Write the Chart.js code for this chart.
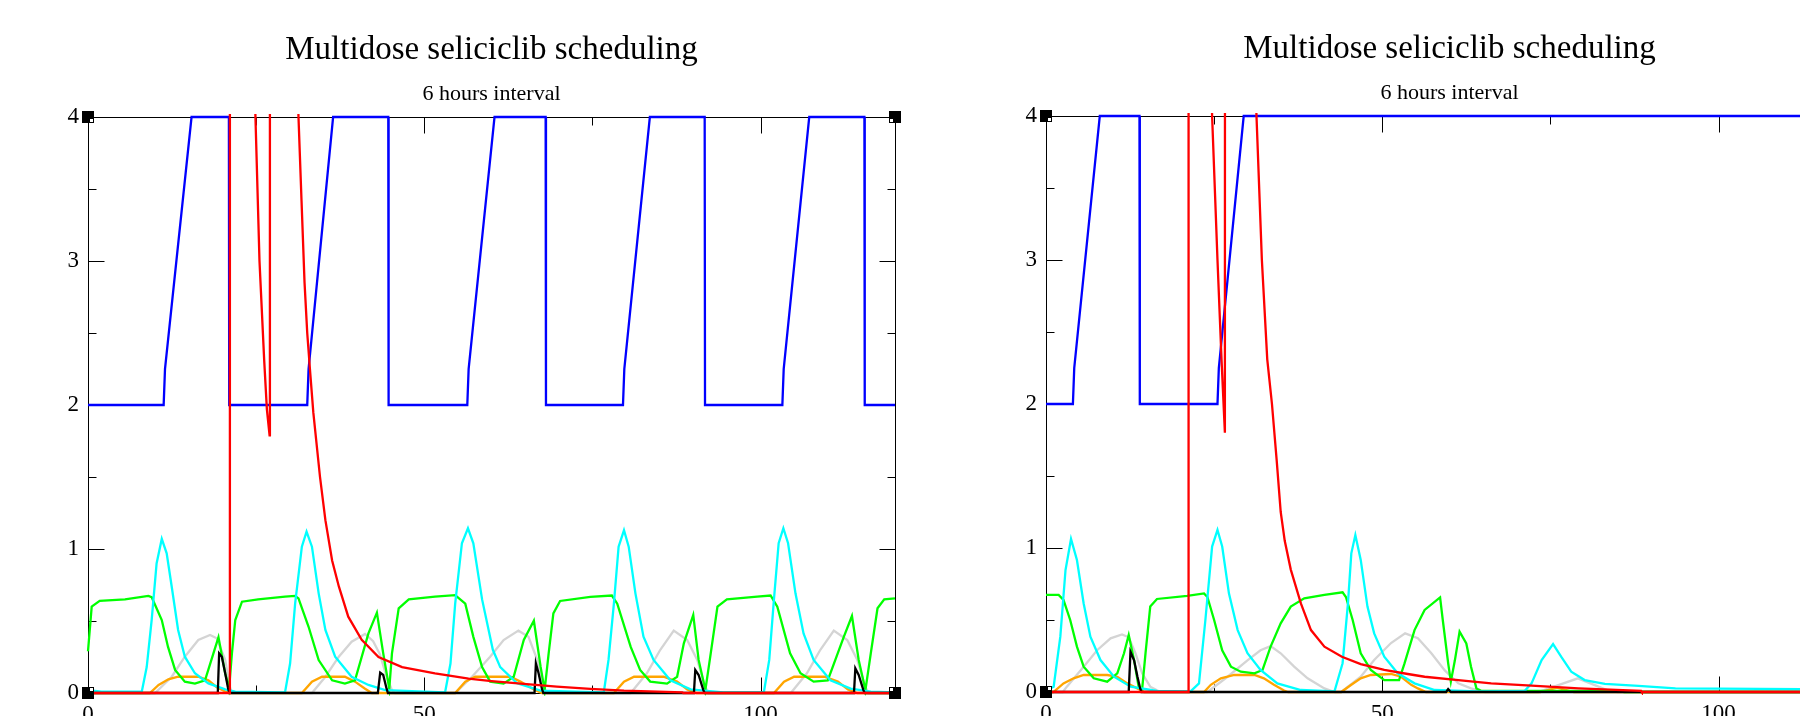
<!DOCTYPE html>
<html>
<head>
<meta charset="utf-8">
<script src="https://cdn.jsdelivr.net/npm/chart.js@4/dist/chart.umd.min.js"></script>
<style>
  html, body { margin: 0; padding: 0; background: #fff; overflow: hidden; }
  #wrap { position: relative; width: 1800px; height: 716px; overflow: hidden; }
  canvas { position: absolute; }
</style>
</head>
<body>
<div id="wrap">
  <canvas id="left-chart" width="960" height="760" style="left:0;top:0"></canvas>
  <canvas id="right-chart" width="960" height="760" style="left:958px;top:-1px"></canvas>
</div>
<script>
const chartTitle = 'Multidose seliciclib scheduling';
const chartSubtitle = '6 hours interval';

const xTickValues = [0, 50, 100];
const xMinorTicks = [25, 75];
const yTickValues = [0, 1, 2, 3, 4];
const yMinorTicks = [0.5, 1.5, 2.5, 3.5];

// left panel series, [time, value]
const leftBlue = [[0,2],[11.25,2],[11.45,2.25],[15.4,4],[20.95,4],[21.0,2],[32.6,2],[32.8,2.25],[36.45,4],[44.65,4],[44.7,2],[56.4,2],[56.6,2.25],[60.45,4],[68.05,4],[68.1,2],[79.55,2],[79.75,2.25],[83.55,4],[91.7,4],[91.75,2],[103.25,2],[103.45,2.25],[107.25,4],[115.45,4],[115.5,2],[120,2]];
const leftRed = [[0,0],[21.05,0],[21.1,12],[24.9,4],[25.5,3],[26.2,2.31],[26.6,1.97],[27.0,1.79],[27.05,12],[31.3,4],[31.75,3.42],[32.2,2.85],[32.6,2.5],[33.0,2.25],[33.5,1.95],[34.5,1.5],[35.3,1.2],[36.3,0.92],[37.3,0.74],[38.7,0.53],[40.7,0.37],[43.2,0.25],[46.7,0.18],[51.6,0.137],[56.6,0.1],[60,0.083],[64.8,0.063],[69.7,0.044],[74.7,0.028],[79.7,0.016],[84.7,0.01],[88.4,0.005],[88.5,0],[120,0]];
const leftGreen = [[0,0.29],[0.55,0.6],[1.74,0.64],[5.5,0.65],[8.97,0.674],[9.47,0.665],[10.97,0.507],[11.9,0.32],[12.95,0.16],[14.4,0.079],[15.9,0.065],[17.4,0.088],[18.65,0.275],[19.4,0.387],[20.4,0.137],[20.98,0.03],[21.4,0.275],[21.9,0.507],[22.9,0.634],[25.3,0.65],[29.3,0.669],[30.8,0.674],[31.3,0.657],[32.8,0.46],[34.3,0.229],[36.3,0.088],[38.2,0.065],[39.7,0.088],[41.7,0.414],[42.96,0.558],[43.9,0.275],[44.8,0.03],[45.2,0.275],[46.2,0.588],[47.7,0.65],[51.6,0.669],[54.6,0.68],[56.1,0.62],[57.3,0.39],[58.6,0.18],[59.8,0.079],[61.8,0.065],[63.3,0.113],[64.8,0.368],[66.3,0.502],[67.3,0.183],[67.9,0.02],[68.5,0.275],[69.2,0.553],[70.2,0.639],[74.7,0.667],[77.9,0.677],[78.7,0.62],[80.7,0.32],[82.1,0.16],[83.6,0.079],[86.1,0.065],[87.6,0.113],[88.6,0.345],[90.0,0.542],[90.8,0.23],[91.8,0.02],[92.6,0.275],[93.6,0.6],[95.0,0.65],[99.5,0.669],[101.5,0.677],[102.5,0.6],[104.4,0.275],[105.95,0.137],[107.9,0.079],[110.0,0.088],[112.4,0.391],[113.6,0.535],[114.6,0.23],[115.6,0.02],[116.4,0.275],[117.4,0.588],[118.4,0.65],[120,0.657]];
const leftCyan = [[0,0.02],[2,0.01],[8.0,0.01],[8.73,0.18],[9.47,0.507],[10.2,0.9],[10.97,1.07],[11.7,0.97],[12.45,0.738],[13.4,0.4375],[14.4,0.252],[15.9,0.137],[17.9,0.067],[20.4,0.025],[21.9,0.01],[29.3,0.005],[30.05,0.205],[30.8,0.62],[31.8,1.016],[32.5,1.12],[33.3,1.016],[34.3,0.692],[35.3,0.4375],[36.75,0.252],[39.2,0.113],[41.7,0.056],[44.2,0.02],[53.1,0.005],[53.9,0.205],[54.6,0.62],[55.6,1.04],[56.5,1.144],[57.3,1.04],[58.6,0.65],[60.2,0.3],[61.3,0.18],[63.8,0.067],[67.3,0.016],[76.7,0.005],[77.4,0.23],[78.2,0.62],[78.9,1.016],[79.7,1.13],[80.4,1.016],[81.4,0.692],[82.6,0.391],[84.1,0.23],[86.6,0.088],[89.6,0.025],[94.5,0.005],[100.5,0.005],[101.3,0.23],[102.0,0.65],[102.7,1.04],[103.4,1.144],[104.1,1.04],[105.2,0.692],[106.4,0.414],[107.9,0.23],[110.4,0.088],[113.4,0.03],[116.4,0.01],[120,0.005]];
const leftGray = [[0,0],[9.97,0],[12.45,0.113],[14.4,0.252],[16.4,0.368],[18.15,0.403],[19.15,0.38],[20.4,0.23],[21.1,0.04],[21.4,0],[33.3,0],[35.3,0.113],[37.3,0.252],[39.2,0.356],[41.2,0.41],[42.4,0.36],[43.4,0.27],[44.4,0.113],[45.2,0.02],[45.6,0],[54.6,0],[57.1,0.113],[59.8,0.252],[61.8,0.368],[64.0,0.433],[65.5,0.39],[66.8,0.23],[67.8,0.04],[68.3,0],[80.7,0],[83.1,0.137],[85.1,0.3],[87.1,0.433],[89.1,0.368],[90.6,0.23],[91.8,0.04],[92.3,0],[104.5,0],[106.9,0.137],[108.9,0.3],[110.9,0.433],[112.9,0.368],[114.4,0.23],[115.6,0.04],[116.1,0],[120,0]];
const leftOrange = [[0,0],[9.2,0],[10.5,0.056],[11.95,0.095],[13.4,0.113],[16.4,0.113],[17.9,0.088],[19.15,0.04],[20.4,0.01],[21,0],[31.8,0],[33.3,0.079],[34.8,0.113],[38.2,0.113],[39.7,0.079],[41.2,0.03],[42.2,0],[54.6,0],[56.1,0.079],[57.6,0.113],[62.8,0.113],[64.3,0.079],[66.3,0.025],[67.5,0],[78.2,0],[79.7,0.079],[81.2,0.113],[85.6,0.113],[87.6,0.079],[89.1,0.025],[90.5,0],[102.0,0],[103.5,0.079],[105.0,0.113],[109.5,0.113],[111.5,0.079],[113.0,0.025],[114.4,0],[120,0]];
const leftBlack = [[0,0],[19.3,0],[19.5,0.275],[19.9,0.252],[20.4,0.137],[20.8,0.04],[21.0,0],[43.1,0],[43.45,0.141],[43.9,0.125],[44.4,0.03],[44.6,0],[66.4,0],[66.6,0.206],[67.0,0.137],[67.5,0.03],[67.7,0],[90.1,0],[90.3,0.16],[90.8,0.125],[91.5,0.02],[91.7,0],[113.9,0],[114.1,0.171],[114.6,0.125],[115.3,0.02],[115.5,0],[120,0]];

// right panel series
const rightBlue = [[0,2],[4.0,2],[4.2,2.25],[8.0,4],[13.9,4],[13.95,2],[25.5,2],[25.7,2.25],[29.4,4],[120,4]];
const rightRed = [[0,0],[21.15,0],[21.2,12],[24.7,4],[25.5,3],[26.1,2.31],[26.6,1.8],[26.65,12],[31.3,4],[32.1,3],[32.9,2.31],[33.6,2.0],[34.3,1.61],[34.9,1.25],[35.5,1.05],[36.4,0.85],[37.9,0.615],[39.4,0.43],[41.4,0.315],[44.0,0.245],[46.8,0.194],[50.3,0.153],[53.8,0.125],[56.3,0.106],[61.3,0.083],[66.2,0.06],[72.2,0.044],[79.2,0.025],[88.5,0.008],[88.6,0],[120,0]];
const rightGreen = [[0,0.674],[1.88,0.674],[2.6,0.64],[3.6,0.5],[4.6,0.315],[5.6,0.176],[7.1,0.095],[9.1,0.072],[10.6,0.13],[11.6,0.269],[12.3,0.396],[13.1,0.22],[13.8,0.03],[14.3,0.02],[14.8,0.27],[15.5,0.593],[16.5,0.646],[21.0,0.667],[23.5,0.685],[24.0,0.66],[25.0,0.5],[26.2,0.29],[27.5,0.176],[28.96,0.141],[31.0,0.13],[32.2,0.153],[33.4,0.315],[34.9,0.477],[36.4,0.593],[38.4,0.651],[41.4,0.674],[44.1,0.692],[44.6,0.66],[45.6,0.5],[46.8,0.269],[48.3,0.153],[50.3,0.083],[52.5,0.083],[53.3,0.197],[54.8,0.43],[56.3,0.57],[58.6,0.657],[59.0,0.5],[59.8,0.2],[60.2,0.072],[60.8,0.22],[61.5,0.419],[62.5,0.337],[63.2,0.176],[64.0,0.025],[64.7,0.008],[85,0.008],[86,0],[120,0]];
const rightCyan = [[0,0.01],[1.14,0.037],[2.13,0.384],[2.9,0.847],[3.72,1.0625],[4.6,0.917],[5.6,0.615],[6.6,0.384],[8.1,0.222],[10.1,0.106],[12.6,0.037],[16.5,0.008],[21.5,0.005],[22.75,0.06],[23.7,0.5],[24.7,1.01],[25.5,1.125],[26.2,1.01],[27.2,0.685],[28.5,0.43],[29.96,0.27],[31.9,0.153],[34.4,0.06],[37.9,0.014],[42.9,0.005],[44.1,0.2],[44.9,0.615],[45.4,0.963],[46.0,1.09],[46.8,0.917],[47.8,0.593],[48.8,0.407],[50.3,0.245],[52.3,0.13],[54.8,0.06],[57.8,0.014],[64.2,0.005],[71.2,0.008],[72.2,0.06],[73.7,0.222],[75.4,0.333],[76.6,0.245],[78.1,0.141],[80.1,0.083],[83.1,0.056],[88.1,0.042],[93.6,0.025],[112.4,0.02],[120,0.02]];
const rightGray = [[0,0],[2.5,0],[3.1,0.037],[5.6,0.176],[7.6,0.29],[9.6,0.373],[11.3,0.4],[12.3,0.38],[13.3,0.269],[14.3,0.13],[15.5,0.037],[17.0,0],[24.0,0],[27.0,0.106],[30.0,0.222],[31.9,0.29],[33.4,0.319],[34.9,0.269],[36.9,0.176],[38.9,0.095],[41.4,0.025],[42.9,0],[43.9,0],[46.8,0.106],[48.8,0.222],[51.3,0.34],[53.4,0.407],[55.3,0.373],[57.3,0.269],[59.3,0.15],[61.3,0.06],[63.2,0.025],[65.2,0],[73.2,0],[79.1,0.095],[83.6,0.01],[85,0],[120,0]];
const rightOrange = [[0,0],[1.1,0],[2.6,0.06],[4.1,0.095],[5.6,0.118],[9.1,0.118],[10.6,0.106],[12.1,0.06],[13.6,0.025],[14.6,0],[23.5,0],[24.5,0.05],[26.0,0.095],[28.0,0.118],[31.0,0.118],[32.4,0.095],[33.9,0.05],[35.4,0.01],[36,0],[43.9,0],[45.4,0.05],[46.8,0.095],[48.3,0.118],[51.3,0.125],[52.8,0.106],[54.3,0.05],[55.3,0.025],[56.5,0],[73.5,0],[76,0.03],[78.5,0],[120,0]];
const rightBlack = [[0,0],[12.3,0],[12.56,0.28],[13.1,0.22],[13.6,0.106],[14.0,0.025],[14.2,0],[59.5,0],[59.8,0.02],[60.2,0],[120,0]];

const serif = '"Liberation Serif", "Times New Roman", serif';

// frame, inward ticks, titles and corner handles
const gracePlot = {
    id: 'gracePlot',
    beforeDatasetsDraw(chart) {
        const ctx = chart.ctx;
        const a = chart.chartArea;
        const x = chart.scales.x, y = chart.scales.y;
        const L = Math.round(a.left) + 0.5, R = Math.round(a.right) + 0.5;
        const T = Math.round(a.top) + 0.5, B = Math.round(a.bottom) + 0.5;
        ctx.save();
        ctx.strokeStyle = '#000';
        ctx.lineWidth = 1;
        ctx.strokeRect(L, T, R - L, B - T);
        ctx.beginPath();
        const tick = (vals, len, isX) => {
            vals.forEach(v => {
                if (isX) {
                    const p = Math.round(x.getPixelForValue(v)) + 0.5;
                    ctx.moveTo(p, B); ctx.lineTo(p, B - len);
                    ctx.moveTo(p, T); ctx.lineTo(p, T + len);
                } else {
                    const p = Math.round(y.getPixelForValue(v)) + 0.5;
                    ctx.moveTo(L, p); ctx.lineTo(L + len, p);
                    ctx.moveTo(R, p); ctx.lineTo(R - len, p);
                }
            });
        };
        tick(xTickValues, 16, true);
        tick(xMinorTicks, 8, true);
        tick(yTickValues, 16, false);
        tick(yMinorTicks, 8, false);
        ctx.stroke();

        const cx = (a.left + a.right) / 2;
        ctx.fillStyle = '#000';
        ctx.textAlign = 'center';
        ctx.textBaseline = 'alphabetic';
        ctx.font = '33px ' + serif;
        ctx.fillText(chartTitle, cx, a.top - 58);
        ctx.font = '22px ' + serif;
        ctx.fillText(chartSubtitle, cx, a.top - 17);
        ctx.restore();
    },
    afterDraw(chart) {
        const ctx = chart.ctx;
        const a = chart.chartArea;
        ctx.save();
        [[a.left, a.top, 1, 1], [a.right, a.top, -1, 1], [a.left, a.bottom, 1, -1], [a.right, a.bottom, -1, -1]].forEach(c => {
            const cx = Math.round(c[0]), cy = Math.round(c[1]);
            ctx.fillStyle = '#000';
            ctx.fillRect(cx - 6, cy - 6, 12, 12);
            ctx.fillStyle = '#fff';
            ctx.fillRect(c[2] > 0 ? cx + 2 : cx - 5, c[3] > 0 ? cy + 2 : cy - 5, 3, 3);
        });
        ctx.restore();
    }
};

function line(data, color) {
    return {
        data: data,
        borderColor: color,
        borderWidth: 2.3,
        pointRadius: 0,
        tension: 0,
        fill: false,
        clip: 3
    };
}

function makeChart(id, blue, red, green, cyan, gray, orange, black) {
    return new Chart(document.getElementById(id), {
        type: 'line',
        data: {
            // first dataset is drawn on top
            datasets: [
                line(red, '#ff0000'),
                line(blue, '#0000ff'),
                line(black, '#000000'),
                line(cyan, '#00ffff'),
                line(green, '#00ff00'),
                line(orange, '#ffa500'),
                line(gray, '#d4d4d4')
            ]
        },
        options: {
            responsive: false,
            animation: false,
            events: [],
            layout: { padding: { top: 117, right: 65, bottom: 27, left: 58 } },
            plugins: { legend: { display: false }, tooltip: { enabled: false } },
            scales: {
                x: {
                    type: 'linear',
                    min: 0,
                    max: 120,
                    afterBuildTicks: s => { s.ticks = xTickValues.map(v => ({ value: v })); },
                    afterFit: s => { s.height = 40; },
                    grid: { display: false, drawTicks: false },
                    border: { display: false },
                    ticks: { padding: 8, maxRotation: 0, color: '#000', font: { family: serif, size: 23 } }
                },
                y: {
                    min: 0,
                    max: 4,
                    afterBuildTicks: s => { s.ticks = yTickValues.map(v => ({ value: v })); },
                    afterFit: s => { s.width = 30; },
                    grid: { display: false, drawTicks: false },
                    border: { display: false },
                    ticks: { padding: 9, color: '#000', font: { family: serif, size: 23 } }
                }
            }
        },
        plugins: [gracePlot]
    });
}

makeChart('left-chart', leftBlue, leftRed, leftGreen, leftCyan, leftGray, leftOrange, leftBlack);
makeChart('right-chart', rightBlue, rightRed, rightGreen, rightCyan, rightGray, rightOrange, rightBlack);
</script>
</body>
</html>
